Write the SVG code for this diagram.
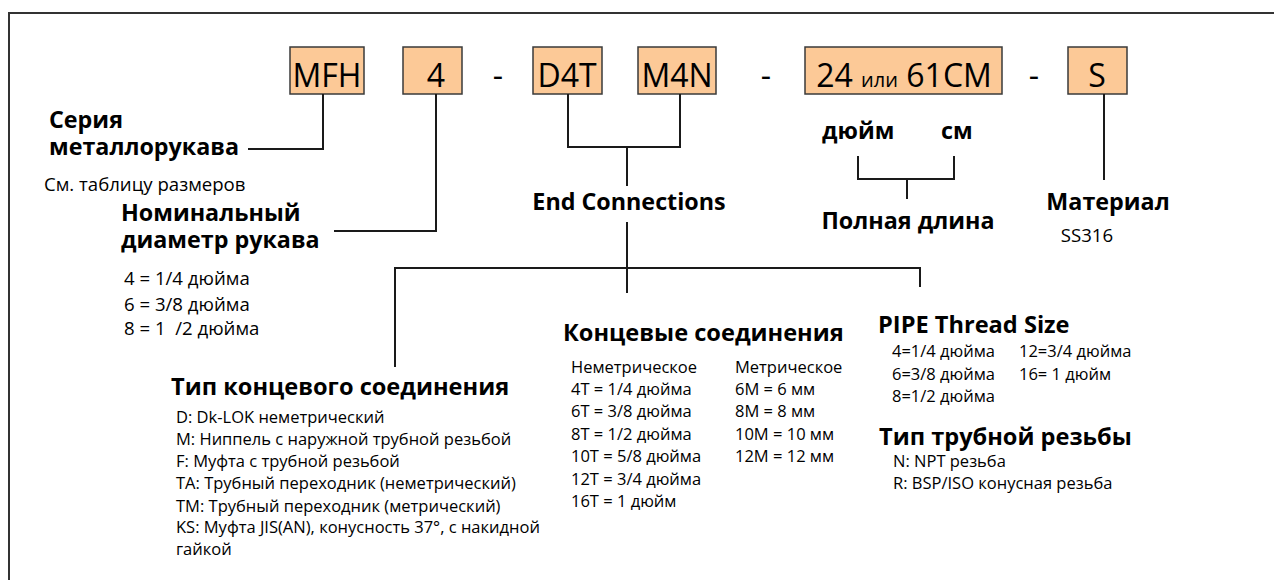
<svg xmlns="http://www.w3.org/2000/svg" width="1274" height="580" viewBox="0 0 1274 580">
<style>
.box{fill:#FCC997;stroke:#3a3a3a;stroke-width:1.5}
.bt{font-family:"Open Sans","Liberation Sans",sans-serif;font-size:32px;fill:#000;text-anchor:middle}
.ln{fill:none;stroke:#1a1a1a;stroke-width:2}
.h{font-family:"Open Sans","Liberation Sans",sans-serif;font-weight:bold;font-size:23.3px;fill:#000}
.hl{font-family:"Open Sans","Liberation Sans",sans-serif;font-weight:bold;font-size:23.6px;fill:#000}
.t{font-family:"Open Sans","Liberation Sans",sans-serif;font-size:16.5px;fill:#000}
.tl{font-family:"Open Sans","Liberation Sans",sans-serif;font-size:18.6px;fill:#000}
.mid{text-anchor:middle}
</style>
<rect x="9" y="13" width="1300" height="600" fill="none" stroke="#333" stroke-width="2"/>
<g id="code">
<g id="n-mfh"><rect class="box" x="290" y="47" width="74" height="47"/><text class="bt" x="327" y="87">MFH</text></g>
<g id="n-4"><rect class="box" x="403" y="47" width="59" height="47"/><text class="bt" x="436" y="87">4</text></g>
<text class="bt" x="498" y="87">-</text>
<g id="n-d4t"><rect class="box" x="533" y="47" width="69" height="47"/><text class="bt" x="567" y="87">D4T</text></g>
<g id="n-m4n"><rect class="box" x="638" y="47" width="78" height="47"/><text class="bt" x="677" y="87">M4N</text></g>
<text class="bt" x="766" y="87">-</text>
<g id="n-len"><rect class="box" x="805" y="47" width="197" height="47"/><text class="bt" x="904" y="87">24 <tspan font-size="20">или</tspan> 61CM</text></g>
<text class="bt" x="1034" y="87">-</text>
<g id="n-s"><rect class="box" x="1068" y="47" width="59" height="47"/><text class="bt" x="1097" y="87">S</text></g>
</g>
<g id="connectors">
<polyline class="ln" points="323,94 323,149 248,149"/>
<polyline class="ln" points="436,94 436,231 334,231"/>
<polyline class="ln" points="568,94 568,147 680,147 680,94"/>
<line class="ln" x1="627" y1="147" x2="627" y2="186"/>
<line class="ln" x1="627" y1="222" x2="627" y2="293"/>
<polyline class="ln" points="395,367 395,268 920,268 920,287"/>
<polyline class="ln" points="858,156 858,179 954,179 954,156"/>
<line class="ln" x1="907" y1="179" x2="907" y2="199"/>
<line class="ln" x1="1104" y1="94" x2="1104" y2="180"/>
</g>
<g id="n-series">
<text class="h" x="49" y="128">Серия</text>
<text class="h" x="49" y="155">металлорукава</text>
<text class="tl" x="44" y="191">См. таблицу размеров</text>
</g>
<g id="n-diam">
<text class="h" x="121" y="221">Номинальный</text>
<text class="h" x="121" y="248">диаметр рукава</text>
<text class="tl" x="124" y="285">4 = 1/4 дюйма</text>
<text class="tl" x="124" y="311">6 = 3/8 дюйма</text>
<text class="tl" x="124" y="335" xml:space="preserve">8 = 1  /2 дюйма</text>
</g>
<g id="n-endconn"><text class="h mid" x="629" y="210">End Connections</text></g>
<g id="n-units">
<text class="h" x="822" y="139">дюйм</text>
<text class="h" x="941" y="139">см</text>
<text class="h mid" x="908" y="229">Полная длина</text>
</g>
<g id="n-material">
<text class="h mid" x="1108" y="210">Материал</text>
<text class="tl mid" x="1087" y="242">SS316</text>
</g>
<g id="n-type">
<text class="hl" x="171" y="395">Тип концевого соединения</text>
<text class="t" x="176" y="423">D: Dk-LOK неметрический</text>
<text class="t" x="176" y="445">M: Ниппель с наружной трубной резьбой</text>
<text class="t" x="176" y="467">F: Муфта с трубной резьбой</text>
<text class="t" x="176" y="489">TA: Трубный переходник (неметрический)</text>
<text class="t" x="176" y="512">TM: Трубный переходник (метрический)</text>
<text class="t" x="176" y="533">KS: Муфта JIS(AN), конусность 37°, с накидной</text>
<text class="t" x="176" y="555">гайкой</text>
</g>
<g id="n-ends">
<text class="hl" x="563" y="341">Концевые соединения</text>
<text class="t" x="571" y="373">Неметрическое</text>
<text class="t" x="571" y="395">4T = 1/4 дюйма</text>
<text class="t" x="571" y="417">6T = 3/8 дюйма</text>
<text class="t" x="571" y="440">8T = 1/2 дюйма</text>
<text class="t" x="571" y="462">10T = 5/8 дюйма</text>
<text class="t" x="571" y="485">12T = 3/4 дюйма</text>
<text class="t" x="571" y="507">16T = 1 дюйм</text>
<text class="t" x="735" y="373">Метрическое</text>
<text class="t" x="735" y="395">6M = 6 мм</text>
<text class="t" x="735" y="417">8M = 8 мм</text>
<text class="t" x="735" y="440">10M = 10 мм</text>
<text class="t" x="735" y="462">12M = 12 мм</text>
</g>
<g id="n-pipe">
<text class="hl" x="878" y="333">PIPE Thread Size</text>
<text class="t" x="892" y="357">4=1/4 дюйма</text>
<text class="t" x="892" y="380">6=3/8 дюйма</text>
<text class="t" x="892" y="402">8=1/2 дюйма</text>
<text class="t" x="1019" y="357">12=3/4 дюйма</text>
<text class="t" x="1019" y="380">16= 1 дюйм</text>
</g>
<g id="n-thread">
<text class="hl" x="879" y="445">Тип трубной резьбы</text>
<text class="t" x="893" y="467">N: NPT резьба</text>
<text class="t" x="893" y="489">R: BSP/ISO конусная резьба</text>
</g>
</svg>
